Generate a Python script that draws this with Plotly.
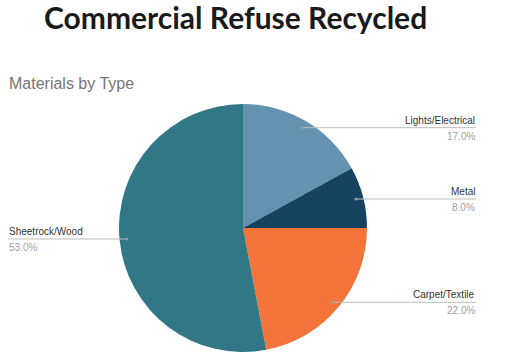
import math
import plotly.graph_objects as go

labels = ["Lights/Electrical", "Metal", "Carpet/Textile", "Sheetrock/Wood"]
values = [17.0, 8.0, 22.0, 53.0]
colors = ["#6393B0", "#15435F", "#F4733A", "#317785"]
sides = ["right", "right", "right", "left"]

W, H = 510, 362
cx, cy, R = 243, 228, 124  # pie centre/radius in pixels (layout)

fig = go.Figure(go.Pie(
    labels=labels, values=values, sort=False, direction="clockwise", rotation=0,
    marker=dict(colors=colors, line=dict(width=0)),
    textinfo="none", hoverinfo="label+percent", showlegend=False,
    domain=dict(x=[(cx - R) / W, (cx + R) / W], y=[(H - cy - R) / H, (H - cy + R) / H]),
))

shapes, annos = [], []
total = sum(values)
cum = 0.0
fx = lambda x: x / W
fy = lambda y: 1 - y / H
for lab, v, side in zip(labels, values, sides):
    mid = (cum + v / 2) / total * 2 * math.pi
    cum += v
    px = cx + 0.94 * R * math.sin(mid)
    py = cy - 0.94 * R * math.cos(mid)
    xe = 476 if side == "right" else 8
    shapes.append(dict(type="line", xref="paper", yref="paper", x0=fx(px), y0=fy(py), x1=fx(xe), y1=fy(py),
                       line=dict(color="#BDBDBD", width=1)))
    shapes.append(dict(type="circle", xref="paper", yref="paper", x0=fx(px - 1.5), x1=fx(px + 1.5),
                       y0=fy(py - 1.5), y1=fy(py + 1.5), fillcolor="#9E9E9E", line=dict(width=0)))
    xanchor = "right" if side == "right" else "left"
    annos.append(dict(text=lab, xref="paper", yref="paper", x=fx(xe), y=fy(py - 1), xanchor=xanchor, yanchor="bottom",
                      showarrow=False, font=dict(family="Liberation Sans, Arial", size=10, color="#333333"),
                      borderpad=0))
    annos.append(dict(text=f"{v:.1f}%", xref="paper", yref="paper", x=fx(xe), y=fy(py + 2), xanchor=xanchor, yanchor="top",
                      showarrow=False, font=dict(family="Liberation Sans, Arial", size=10, color="#A0A0A0"),
                      borderpad=0))

annos.append(dict(text="<b>Commercial Refuse Recycled</b>", xref="paper", yref="paper", x=235.5 / W, y=1 + 3 / H,
                  xanchor="center", yanchor="top", showarrow=False,
                  font=dict(family="Lato, Open Sans, sans-serif", size=30, color="#1A1A1A")))
annos.append(dict(text="Materials by Type", xref="paper", yref="paper", x=8 / W, y=1 - 93 / H,
                  xanchor="left", yanchor="bottom", showarrow=False,
                  font=dict(family="Liberation Sans, Arial", size=16, color="#757575"), borderpad=0))

fig.update_layout(width=W, height=H, margin=dict(l=0, r=0, t=0, b=0),
                  paper_bgcolor="white", plot_bgcolor="white",
                  shapes=shapes, annotations=annos)
fig.write_html("out.html", config={"displayModeBar": False},
               post_script="document.body.style.margin='0px';")
